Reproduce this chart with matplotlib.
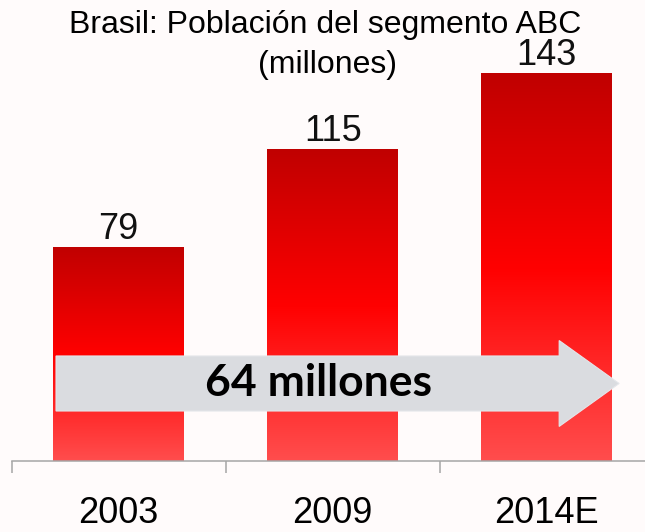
import numpy as np
import matplotlib
matplotlib.use("Agg")
import matplotlib.pyplot as plt
from matplotlib.colors import LinearSegmentedColormap
from matplotlib.patches import FancyArrow

# ------------------------------------------------------------------
# Data
# ------------------------------------------------------------------
years = ["2003", "2009", "2014E"]
population = [79, 115, 143]          # millones
title_lines = ["Brasil: Población del segmento ABC", "(millones)"]

BG = "#FFFBFB"
bar_cmap = LinearSegmentedColormap.from_list(
    "abc_red", [(0.0, "#FF4D4D"), (0.5, "#FF0000"), (1.0, "#C00000")])

fig = plt.figure(figsize=(6.45, 5.32), dpi=100, facecolor=BG)
ax = fig.add_axes([11.7 / 645, 71 / 532, (645 - 11.7) / 645, 461 / 532])
ax.set_facecolor(BG)

x = np.arange(len(years))
bar_w = 0.612
bars = ax.bar(x, population, width=bar_w, color="none", edgecolor="none")

# vertical gradient inside each bar
grad = np.linspace(0, 1, 256).reshape(-1, 1)
for b in bars:
    x0, w, h = b.get_x(), b.get_width(), b.get_height()
    im = ax.imshow(grad, extent=(x0, x0 + w, 0, h), origin="lower",
                   cmap=bar_cmap, aspect="auto", interpolation="bicubic",
                   zorder=2)
    im.set_clip_path(b)

# value labels
for xi, v in zip(x, population):
    ax.annotate(f"{v}", (xi, v), xytext=(0, 6), textcoords="offset points",
                ha="center", va="baseline", fontsize=26,
                family="Liberation Sans", color="#111111")

ax.set_xlim(-0.5, 2.459)
ax.set_ylim(0, 170.1)

# growth arrow across the bars
growth = population[-1] - population[0]
arrow_y = 28.6
x_start = x[0] - bar_w / 2 + 0.013
x_tip = 2.338
ax.add_patch(FancyArrow(x_start, arrow_y, x_tip - x_start, 0,
                        width=20.3, head_width=31.7, head_length=0.28,
                        length_includes_head=True, color="#DADCE0",
                        ec="#E4E6EA", lw=0.8, zorder=3))
ax.text(0.934, arrow_y, f"{growth} millones", ha="center", va="center",
        fontsize=32, fontweight="bold", family="Lato", color="black",
        zorder=4)

# axis styling
for side in ["left", "right", "top"]:
    ax.spines[side].set_visible(False)
ax.spines["bottom"].set_color("#A6A6A6")
ax.spines["bottom"].set_linewidth(1.1)
ax.set_yticks([])
ax.set_xticks(x)
ax.set_xticklabels(years, fontsize=26, family="Liberation Sans")
ax.tick_params(axis="x", which="major", length=0, pad=25)
ax.set_xticks([-0.5, 0.5, 1.5], minor=True)
ax.tick_params(axis="x", which="minor", length=8.6, width=1.1,
               color="#A6A6A6", direction="out")

# title (two lines)
fig.text(325.5 / 645, 1 - 33 / 532, title_lines[0], ha="center",
         va="baseline", fontsize=23, family="Liberation Sans")
fig.text(327 / 645, 1 - 73 / 532, title_lines[1], ha="center",
         va="baseline", fontsize=23, family="Liberation Sans")

fig.savefig("out.png", dpi=100, facecolor=BG)
